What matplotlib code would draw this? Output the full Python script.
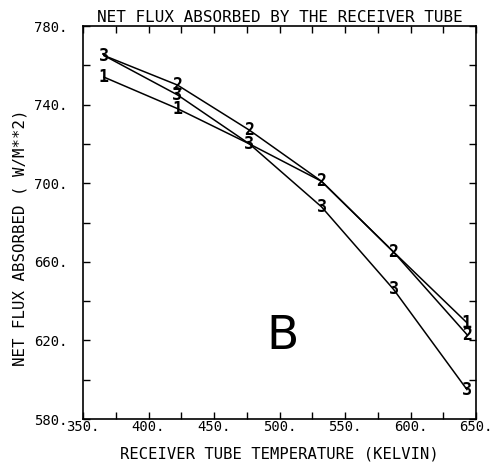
import matplotlib
matplotlib.use("Agg")
import matplotlib.pyplot as plt
from matplotlib.ticker import MultipleLocator, FuncFormatter

temps = [366, 422, 477, 532, 587, 643]
curve1 = [754, 738, 720, 701, 665, 629]
curve2 = [765, 750, 727, 701, 665, 623]
curve3 = [765, 745, 720, 688, 646, 595]
series = [("1", curve1), ("2", curve2), ("3", curve3)]

xticks = [350, 400, 450, 500, 550, 600, 650]
yticks = [580, 620, 660, 700, 740, 780]

mono = "DejaVu Sans Mono"

fig = plt.figure(figsize=(4.98, 4.65), dpi=100)
ax = fig.add_axes([0.1667, 0.0989, 0.956 - 0.1667, 0.944 - 0.0989])

for label, ys in series:
    ax.plot(temps, ys, color="black", lw=1.1)

# digit markers; where a later curve passes through the same point, its digit covers the earlier one
for i, (label, ys) in enumerate(series):
    for j, (x, y) in enumerate(zip(temps, ys)):
        covered = any(abs(other[j] - y) < 2 for _, other in series[i + 1:])
        if covered:
            continue
        ax.text(x, y, label, ha="center", va="center", fontsize=12,
                family=mono, fontweight="bold", color="black")

ax.set_xlim(350, 650)
ax.set_ylim(580, 780)
ax.set_xticks(xticks)
ax.set_yticks(yticks)
ax.xaxis.set_minor_locator(MultipleLocator(25))
ax.yaxis.set_minor_locator(MultipleLocator(20))
fmt = FuncFormatter(lambda v, p: f"{int(v)}.")
ax.xaxis.set_major_formatter(fmt)
ax.yaxis.set_major_formatter(fmt)

ax.tick_params(which="both", direction="in", top=True, right=True, length=5, width=1)
ax.tick_params(which="major", labelsize=10)
ax.tick_params(axis="x", which="major", pad=1)
ax.tick_params(axis="y", which="major", pad=11)
for lab in ax.get_xticklabels() + ax.get_yticklabels():
    lab.set_family(mono)
for s in ax.spines.values():
    s.set_linewidth(1.2)

ax.set_title("NET FLUX ABSORBED BY THE RECEIVER TUBE", family=mono, fontsize=11.5, pad=3)
ax.set_xlabel("RECEIVER TUBE TEMPERATURE (KELVIN)", family=mono, fontsize=11.2, labelpad=9)
ax.set_ylabel("NET FLUX ABSORBED ( W/M**2)", family=mono, fontsize=11.3)
ax.yaxis.set_label_coords(-0.14, 0.46)

ax.text(502, 622, "B", ha="center", va="center", fontsize=34, family="DejaVu Sans")

fig.savefig("out.png", dpi=100)
